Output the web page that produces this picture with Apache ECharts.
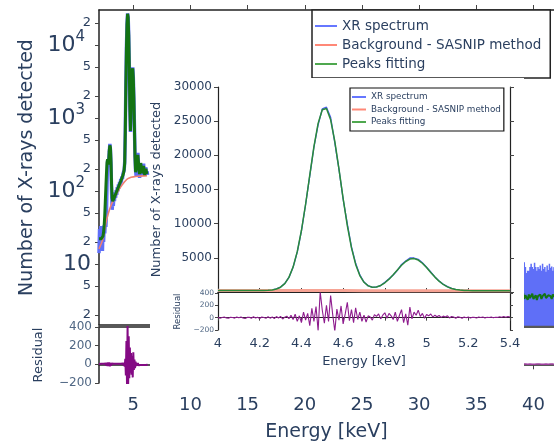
<!DOCTYPE html>
<html><head><meta charset="utf-8">
<script src="https://cdn.jsdelivr.net/npm/echarts@6/dist/echarts.min.js"></script>
<style>html,body{margin:0;padding:0;background:#fff}#chart{width:554px;height:444px}</style>
</head><body><div id="chart"></div>
<script>
// ---------------- DATA ----------------
const seriesNames = ['XR spectrum', 'Background - SASNIP method', 'Peaks fitting'];

// Full-range (log) plot, low-energy visible part: 2.00 .. 6.25 keV, 0.05 keV channels
const bgLowStartKeV = 2.0, bgLowStepKeV = 0.05;
const bgLowSpectrum = [
  14, 30, 16, 33, 18, 28, 15, 31, 20, 34,
  26, 38, 32, 48, 120, 260, 215, 270, 340, 440,
  370, 230, 100, 55, 70, 62, 85, 72, 95, 80,
  102, 88, 112, 98, 122, 108, 132, 118, 145, 130,
  158, 145, 172, 168, 190, 250, 680, 2700, 8880, 19100,
  26900, 23950, 13500, 5200, 1420, 640, 1360, 2790, 4500, 4900,
  3600, 1860, 760, 300, 190, 160, 250, 270, 330, 240,
  200, 150, 215, 230, 220, 160, 175, 180, 235, 170,
  180, 160, 210, 170, 185, 165
];
const bgLowPeaksFit = [
  22, 22, 22, 22, 22, 22, 23, 24, 27, 33,
  45, 70, 110, 170, 240, 270, 230, 250, 360, 420,
  390, 250, 120, 80, 72, 74, 78, 82, 86, 90,
  94, 98, 103, 108, 113, 118, 124, 129, 135, 141,
  148, 155, 164, 176, 195, 240, 650, 2760, 8950, 19200,
  26620, 23730, 13630, 5090, 1380, 660, 1300, 2830, 4430, 4780,
  3540, 1830, 720, 290, 180, 175, 230, 290, 310, 250,
  190, 170, 200, 240, 210, 175, 165, 190, 220, 185,
  165, 175, 200, 180, 170, 175
];
const bgLowResidual = [
  3, -4, 6, -3, 5, -6, 4, -3, 6, -5,
  8, -6, 10, -14, 18, -20, 22, -18, 20, -22,
  16, -14, 10, -8, 6, -5, 7, -6, 5, -7,
  6, -5, 8, -6, 5, -8, 7, -5, 6, -7,
  8, -6, 10, -12, 18, -25, 60, -120, 250, -210,
  410, -230, 300, -150, 180, -90, 120, -110, 90, -140,
  130, -60, 50, -40, 30, -20, 15, -12, 14, -10,
  8, -9, 10, -8, 7, -9, 8, -6, 9, -7,
  6, -8, 7, -6, 5, -5
];
// SASNIP background, 0.1 keV steps 2.0 .. 6.2 keV
const bgLowBackgroundStartKeV = 2.0, bgLowBackgroundStepKeV = 0.1;
const bgLowBackground = [
  16, 17, 19, 21, 25, 30, 36, 42, 48, 54,
  60, 66, 71, 77, 83, 89, 95, 101, 107, 113,
  119, 125, 131, 137, 142, 146, 149, 151, 153, 154,
  155, 156, 157, 157, 158, 158, 159, 159, 160, 160,
  160, 161, 161
];

// Full-range plot, high-energy visible part: 37.5 .. 41.8 keV
const bgHighStartKeV = 37.5, bgHighStepKeV = 0.05;
const bgHighSpectrum = [
  9, 1, 8, 1, 10, 1, 8, 1, 9, 1,
  8.5, 1, 7.8, 1, 9, 1, 10.3, 1, 8.5, 1,
  8, 1, 7.5, 1, 8.5, 1, 9.5, 1, 10.5, 1,
  8, 1, 8.5, 1, 10.5, 1, 9, 1, 7.5, 1,
  8, 1, 8, 1, 9, 1, 10, 1, 9, 1,
  8.5, 1, 10.3, 1, 9, 1, 8, 1, 9, 1,
  8.5, 1, 9.5, 1, 8, 1, 10, 1, 8.5, 1,
  9, 1, 7.8, 1, 9.5, 1, 8.2, 1, 10, 1,
  8.8, 1, 9.2, 1, 8, 1, 9
];
const bgHighFitStartKeV = 37.5, bgHighFitStepKeV = 0.1;
const bgHighPeaksFit = [
  3.5, 3.3, 3.8, 3.2, 3.6, 3.9, 3.4, 3.1, 3.7, 3.5,
  3.9, 3.3, 3.6, 3.2, 3.8, 3.4, 4.0, 3.3, 3.7, 3.5,
  3.2, 3.8, 3.4, 3.6, 3.9, 3.3, 3.5, 3.7, 3.2, 3.6,
  3.4, 3.8, 3.3, 3.6, 3.5, 3.9, 3.4, 3.2, 3.7, 3.5,
  3.6, 3.3, 3.8, 3.5
];
const bgHighResidual = [
  2, -3, 4, -2, 3, -4, 2, -1, 3, -3,
  4, -2, 1, -3, 2, -4, 3, -2, 4, -1,
  2, -3, 3, -2, 1, -4, 2, -3, 3, -1,
  4, -2, 2, -3, 1, -2, 3, -4, 2, -1,
  3, -2, 4, -3
];
// log-axis tick values of the full-range plot
const bgTickValues = [2, 5, 10, 20, 50, 100, 200, 500, 1000, 2000, 5000, 10000, 20000];
const bgEnergyTicks = [5, 10, 15, 20, 25, 30, 35, 40];

// Inset (zoom 4.0 .. 5.4 keV), 0.02 keV steps
const insetStartKeV = 4.0, insetStepKeV = 0.02;
const insetSpectrum = [
  225, 222, 214, 224, 210, 213, 210, 219, 206, 211,
  205, 229, 266, 319, 454, 724, 1230, 2124, 3616, 5844,
  8919, 12802, 16983, 21220, 24465, 26786, 27053, 25561, 21821, 17932,
  13571, 9958, 6585, 4199, 2501, 1461, 931, 665, 763, 943,
  1427, 1947, 2492, 3166, 4038, 4527, 4984, 4976, 4791, 4276,
  3623, 2926, 2219, 1614, 1127, 781, 535, 356, 285, 244,
  218, 204, 186, 189, 183, 189, 184, 189, 191, 192,
  196
];
const insetPeaksFit = [
  220, 219, 218, 218, 217, 216, 216, 215, 215, 216,
  219, 227, 250, 307, 436, 704, 1222, 2142, 3646, 5904,
  8999, 12842, 17113, 21280, 24675, 26666, 26853, 25201, 22041, 17972,
  13671, 9708, 6455, 4039, 2411, 1421, 901, 705, 743, 963,
  1347, 1877, 2522, 3226, 3908, 4467, 4814, 4886, 4671, 4206,
  3573, 2866, 2179, 1579, 1102, 751, 515, 366, 280, 232,
  208, 196, 191, 187, 187, 186, 186, 185, 185, 184,
  184
];
const insetBackgroundStartKeV = 4.0, insetBackgroundStepKeV = 0.1;
const insetBackground = [220, 216, 214, 211, 209, 206, 204, 201, 199, 196, 194, 191, 189, 186, 184];
const insetResidualStartKeV = 4.0, insetResidualStepKeV = 0.01;
const insetResidual = [
  5, -8, 3, 10, -4, -10, 6, 2, -7, 9,
  -3, 12, -6, -12, 4, 8, -9, 14, -5, 7,
  -14, 10, 2, -11, 16, -8, 12, -15, 18, -6,
  20, -22, 8, 25, -18, 40, -30, 55, -60, 30,
  -80, 90, -40, 70, -130, 150, -60, 180, -210, 420,
  120, -90, 200, -60, 360, 50, -220, 140, -40, 190,
  -100, 60, 250, -50, 130, -80, 160, -30, 90, -60,
  40, -70, 30, 10, -40, 50, 20, 60, -20, 40,
  80, -10, 70, 30, -30, 90, -60, 40, 130, -80,
  60, -120, 170, -20, 90, 40, 120, 20, 70, -10,
  50, 30, 60, 10, 40, 15, 35, 5, 25, 10,
  30, -5, 20, 10, -10, 15, 5, -8, 12, 0,
  10, -6, 8, 4, -5, 10, 2, 12, -4, 6,
  3, 10, -2, 8, 4, 14, 6, 18, 8, 20,
  12
];

// ---------------- CHART ----------------
const FONT = 'DejaVu Sans';
const TEXT = '#2a3f5f';
const TEXT2 = '#506784';
const AX = '#222';
const C_BLUE = '#5f6ff7', C_RED = '#f08070', C_GREEN = '#137313', C_PURPLE = '#840a84';

function pairs(start, step, values) {
  return values.map((v, i) => [Math.round((start + i * step) * 1000) / 1000, v]);
}
function logLabel(v) {
  const e = Math.round(Math.log10(v));
  if (Math.abs(v - Math.pow(10, e)) < 1e-6 * v) {
    return e === 1 ? '{p|10}' : '{p|10}{s|' + e + '}';
  }
  const lead = Math.round(v / Math.pow(10, Math.floor(Math.log10(v) + 1e-9)));
  return '{m|' + lead + '}';
}
function minusFmt(v) { return v < 0 ? '\u2212' + Math.abs(v) : String(v); }
function plainFmt(v) { return String(v); }

const lineAx = (w) => ({ show: true, lineStyle: { color: AX, width: w } });
const noLab = { show: false };
const noTick = { show: false };
const noSplit = { show: false };

const chart = echarts.init(document.getElementById('chart'), null, { renderer: 'canvas' });

const option = {
  animation: false,
  backgroundColor: '#fff',
  textStyle: { fontFamily: FONT },
  grid: [
    { left: 99, top: 10, width: 470, height: 315 },
    { left: 99, top: 327, width: 470, height: 56 },
    { left: 218, top: 87, width: 292, height: 205 },
    { left: 218, top: 293, width: 292, height: 37 }
  ],
  xAxis: [
    { type: 'value', gridIndex: 0, min: 2, max: 41.8, position: 'bottom', axisLine: lineAx(1.5), axisTick: noTick, axisLabel: noLab, splitLine: noSplit },
    { type: 'value', gridIndex: 0, min: 2, max: 41.8, position: 'top', axisLine: lineAx(1.5),
      axisTick: { show: true, customValues: bgEnergyTicks, length: 5, lineStyle: { color: '#444' } }, axisLabel: noLab, splitLine: noSplit },
    { type: 'value', gridIndex: 1, min: 2, max: 41.8, position: 'bottom', axisLine: lineAx(1.5),
      axisTick: { show: true, customValues: bgEnergyTicks, length: 5, lineStyle: { color: '#444' } },
      axisLabel: { customValues: bgEnergyTicks, fontFamily: FONT, fontSize: 18, color: TEXT, margin: 13 },
      splitLine: noSplit,
      name: 'Energy [keV]', nameLocation: 'middle', nameGap: 40,
      nameTextStyle: { fontFamily: FONT, fontSize: 19, color: TEXT } },
    { type: 'value', gridIndex: 1, min: 2, max: 41.8, position: 'top', axisLine: lineAx(1.5), axisTick: noTick, axisLabel: noLab, splitLine: noSplit },
    // inset
    { type: 'value', gridIndex: 2, min: 4, max: 5.4, interval: 0.2, position: 'bottom', z: 6, axisLine: lineAx(1.2), axisTick: noTick, axisLabel: noLab, splitLine: noSplit },
    { type: 'value', gridIndex: 2, min: 4, max: 5.4, interval: 0.2, position: 'top', z: 6, axisLine: lineAx(1.2),
      axisTick: { show: true, length: 4, lineStyle: { color: '#444' } }, axisLabel: noLab, splitLine: noSplit },
    { type: 'value', gridIndex: 3, min: 4, max: 5.4, interval: 0.2, position: 'bottom', z: 6, axisLine: lineAx(1.2),
      axisTick: { show: true, length: 3, lineStyle: { color: '#444' } },
      axisLabel: { fontFamily: FONT, fontSize: 13, color: TEXT, margin: 7, formatter: v => String(Math.round(v * 10) / 10) },
      splitLine: noSplit,
      name: 'Energy [keV]', nameLocation: 'middle', nameGap: 25,
      nameTextStyle: { fontFamily: FONT, fontSize: 13, color: TEXT } },
    { type: 'value', gridIndex: 3, min: 4, max: 5.4, interval: 0.2, position: 'top', z: 6, axisLine: lineAx(1.2), axisTick: noTick, axisLabel: noLab, splitLine: noSplit }
  ],
  yAxis: [
    { type: 'log', logBase: 10, gridIndex: 0, min: 1.45, max: 30000, position: 'left', axisLine: lineAx(1.5),
      axisTick: { show: true, customValues: bgTickValues, length: 4, lineStyle: { color: '#444' } },
      axisLabel: { customValues: bgTickValues, formatter: logLabel, color: TEXT, margin: 8,
        showMinLabel: true, showMaxLabel: true,
        rich: {
          p: { fontFamily: FONT, fontSize: 22, color: TEXT, lineHeight: 22 },
          s: { fontFamily: FONT, fontSize: 15, color: TEXT, lineHeight: 15, padding: [0, 6, 16, 0] },
          m: { fontFamily: FONT, fontSize: 13, color: TEXT, lineHeight: 9 }
        } },
      splitLine: noSplit,
      name: 'Number of X-rays detected', nameLocation: 'middle', nameGap: 60,
      nameTextStyle: { fontFamily: FONT, fontSize: 19, color: TEXT } },
    { type: 'value', gridIndex: 1, min: -200, max: 400, interval: 200, position: 'left', axisLine: lineAx(1.5),
      axisTick: { show: true, length: 4, lineStyle: { color: '#444' } },
      axisLabel: { fontFamily: FONT, fontSize: 12, color: TEXT2, margin: 7, formatter: minusFmt },
      splitLine: noSplit,
      name: 'Residual', nameLocation: 'middle', nameGap: 54,
      nameTextStyle: { fontFamily: FONT, fontSize: 13, color: TEXT } },
    // inset
    { type: 'value', gridIndex: 2, min: 0, max: 30000, interval: 5000, position: 'left', z: 6, axisLine: lineAx(1.2),
      axisTick: { show: true, length: 4, lineStyle: { color: '#444' } },
      axisLabel: { fontFamily: FONT, fontSize: 12, color: TEXT, margin: 6, showMinLabel: false, formatter: plainFmt },
      splitLine: noSplit,
      name: 'Number of X-rays detected', nameLocation: 'middle', nameGap: 44,
      nameTextStyle: { fontFamily: FONT, fontSize: 13, color: TEXT } },
    { type: 'value', gridIndex: 2, min: 0, max: 30000, interval: 5000, position: 'right', z: 6, axisLine: lineAx(1.2),
      axisTick: { show: true, length: 4, lineStyle: { color: '#444' } }, axisLabel: noLab, splitLine: noSplit },
    { type: 'value', gridIndex: 3, min: -200, max: 400, interval: 200, position: 'left', z: 6, axisLine: lineAx(1.2),
      axisTick: { show: true, length: 3, lineStyle: { color: '#444' } },
      axisLabel: { fontFamily: FONT, fontSize: 7.5, color: TEXT2, margin: 4, formatter: minusFmt },
      splitLine: noSplit,
      name: 'Residual', nameLocation: 'middle', nameGap: 34,
      nameTextStyle: { fontFamily: FONT, fontSize: 8.5, color: TEXT } },
    { type: 'value', gridIndex: 3, min: -200, max: 400, interval: 200, position: 'right', z: 6, axisLine: lineAx(1.2),
      axisTick: { show: true, length: 3, lineStyle: { color: '#444' } }, axisLabel: noLab, splitLine: noSplit }
  ],
  legend: [
    { orient: 'vertical', left: 312, top: 10, icon: 'rect', itemWidth: 22, itemHeight: 2, itemGap: 2,
      padding: [7.5, 9, 5.5, 3], borderColor: '#222', borderWidth: 1.5, backgroundColor: '#fff',
      selectedMode: false, z: 4,
      textStyle: { fontFamily: FONT, fontSize: 13.5, color: TEXT, lineHeight: 17 },
      data: [
        { name: seriesNames[0], itemStyle: { color: '#6677ff' } },
        { name: seriesNames[1], itemStyle: { color: '#ff8877' } },
        { name: seriesNames[2], itemStyle: { color: '#4fa84f' } }
      ] },
    { orient: 'vertical', left: 350, top: 88, icon: 'rect', itemWidth: 14, itemHeight: 2, itemGap: 1.5,
      padding: [3.5, 3, 3.5, 2], borderColor: '#111', borderWidth: 1.2, backgroundColor: '#fff',
      selectedMode: false, z: 20,
      textStyle: { fontFamily: FONT, fontSize: 8.8, color: TEXT, lineHeight: 11 },
      data: [
        { name: seriesNames[0], itemStyle: { color: '#6677ff' } },
        { name: seriesNames[1], itemStyle: { color: '#ff8877' } },
        { name: seriesNames[2], itemStyle: { color: '#4fa84f' } }
      ] }
  ],
  graphic: [
    { type: 'rect', shape: { x: 150, y: 78, width: 374, height: 300 }, style: { fill: '#ffffff' }, z: 5, silent: true }
  ],
  series: [
    // full-range log plot
    { name: seriesNames[0], type: 'line', xAxisIndex: 0, yAxisIndex: 0, showSymbol: false, symbol: 'none', z: 2,
      lineStyle: { color: C_BLUE, width: 3.5 }, itemStyle: { color: C_BLUE },
      data: pairs(bgLowStartKeV, bgLowStepKeV, bgLowSpectrum) },
    { name: seriesNames[0], type: 'line', xAxisIndex: 0, yAxisIndex: 0, showSymbol: false, symbol: 'none', z: 2,
      lineStyle: { color: C_BLUE, width: 1.5 }, itemStyle: { color: C_BLUE },
      data: pairs(bgHighStartKeV, bgHighStepKeV, bgHighSpectrum) },
    { name: seriesNames[1], type: 'line', xAxisIndex: 0, yAxisIndex: 0, showSymbol: false, symbol: 'none', z: 2,
      lineStyle: { color: C_RED, width: 1.6 }, itemStyle: { color: C_RED },
      data: pairs(bgLowBackgroundStartKeV, bgLowBackgroundStepKeV, bgLowBackground) },
    { name: seriesNames[2], type: 'line', xAxisIndex: 0, yAxisIndex: 0, showSymbol: false, symbol: 'none', z: 2,
      lineStyle: { color: C_GREEN, width: 3 }, itemStyle: { color: C_GREEN },
      data: pairs(bgLowStartKeV, bgLowStepKeV, bgLowPeaksFit) },
    { name: seriesNames[2], type: 'line', xAxisIndex: 0, yAxisIndex: 0, showSymbol: false, symbol: 'none', z: 2,
      lineStyle: { color: C_GREEN, width: 2 }, itemStyle: { color: C_GREEN },
      data: pairs(bgHighFitStartKeV, bgHighFitStepKeV, bgHighPeaksFit) },
    { name: 'Residual', type: 'line', xAxisIndex: 2, yAxisIndex: 1, showSymbol: false, symbol: 'none', z: 2,
      lineStyle: { color: C_PURPLE, width: 2 },
      data: pairs(bgLowStartKeV, bgLowStepKeV, bgLowResidual) },
    { name: 'Residual', type: 'line', xAxisIndex: 2, yAxisIndex: 1, showSymbol: false, symbol: 'none', z: 2,
      lineStyle: { color: '#a040a0', width: 1.5 },
      data: pairs(bgHighFitStartKeV, bgHighFitStepKeV, bgHighResidual) },
    // inset
    { name: seriesNames[0], type: 'line', xAxisIndex: 4, yAxisIndex: 2, showSymbol: false, symbol: 'none', z: 7,
      lineStyle: { color: '#4c5cf0', width: 1.3 }, itemStyle: { color: '#4c5cf0' },
      data: pairs(insetStartKeV, insetStepKeV, insetSpectrum) },
    { name: seriesNames[1], type: 'line', xAxisIndex: 4, yAxisIndex: 2, showSymbol: false, symbol: 'none', z: 7,
      lineStyle: { color: '#f6a394', width: 3 }, itemStyle: { color: '#f6a394' },
      data: pairs(insetBackgroundStartKeV, insetBackgroundStepKeV, insetBackground) },
    { name: seriesNames[2], type: 'line', xAxisIndex: 4, yAxisIndex: 2, showSymbol: false, symbol: 'none', z: 8,
      lineStyle: { color: '#2a8a3a', width: 1.5 }, itemStyle: { color: '#2a8a3a' },
      data: pairs(insetStartKeV, insetStepKeV, insetPeaksFit) },
    { name: 'Residual', type: 'line', xAxisIndex: 6, yAxisIndex: 4, showSymbol: false, symbol: 'none', z: 7,
      lineStyle: { color: '#8e1c8e', width: 1.1 },
      data: pairs(insetResidualStartKeV, insetResidualStepKeV, insetResidual) }
  ]
};
chart.setOption(option);
</script></body></html>
